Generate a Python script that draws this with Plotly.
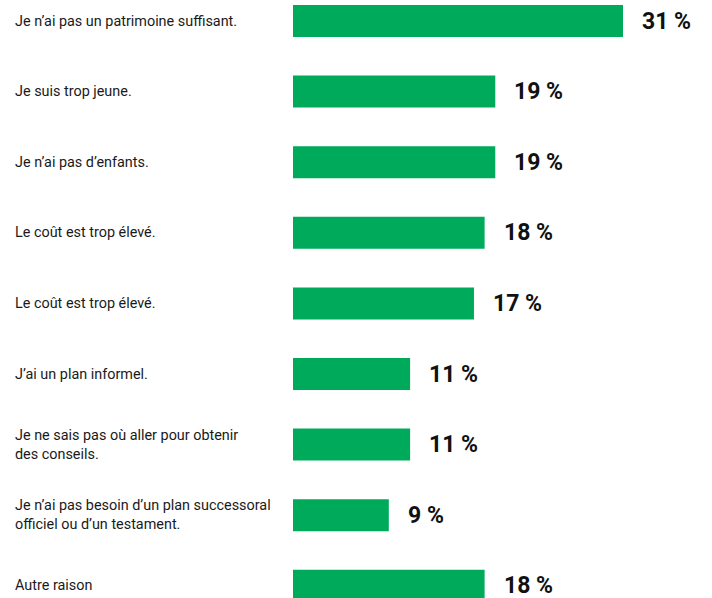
import plotly.graph_objects as go

labels = [
    "Je n’ai pas un patrimoine suffisant.",
    "Je suis trop jeune.",
    "Je n’ai pas d’enfants.",
    "Le coût est trop élevé.",
    "Le coût est trop élevé.",
    "J’ai un plan informel.",
    "Je ne sais pas où aller pour obtenir<br>des conseils.",
    "Je n’ai pas besoin d’un plan successoral<br>officiel ou d’un testament.",
    "Autre raison",
]
values = [31, 19, 19, 18, 17, 11, 11, 9, 18]
value_text = [f"{v} %" for v in values]
rows = list(range(len(values)))

GREEN = "#00AA5B"
W, H = 712, 598
L = 293
plot_w = W - L
px_per_unit = 330 / 31
row_px = 70.6
first_center = 21

fig = go.Figure()
fig.add_trace(go.Bar(
    x=values, y=rows, orientation="h",
    marker=dict(color=GREEN, line=dict(width=0)),
    width=32 / row_px,
    hoverinfo="skip",
))

for r, lab in zip(rows, labels):
    fig.add_annotation(
        x=-(L - 13) / plot_w, xref="paper", y=r, yref="y",
        text=lab, showarrow=False, xanchor="left", yanchor="middle", align="left",
        font=dict(family="Roboto, sans-serif", size=14.4, color="#1a1a1a"),
    )
for r, v, t in zip(rows, values, value_text):
    fig.add_annotation(
        x=v, xref="x", y=r, yref="y", text=f"<b>{t}</b>", showarrow=False,
        xanchor="left", yanchor="middle", xshift=17,
        font=dict(family="Roboto, sans-serif", size=23, color="#111111"),
    )

fig.update_layout(
    width=W, height=H,
    margin=dict(l=L, r=0, t=0, b=0),
    paper_bgcolor="white", plot_bgcolor="white",
    showlegend=False,
    xaxis=dict(range=[0, plot_w / px_per_unit], visible=False, fixedrange=True),
    yaxis=dict(range=[(H - first_center) / row_px, -first_center / row_px],
               visible=False, fixedrange=True),
)
fig.write_html("out.html")
